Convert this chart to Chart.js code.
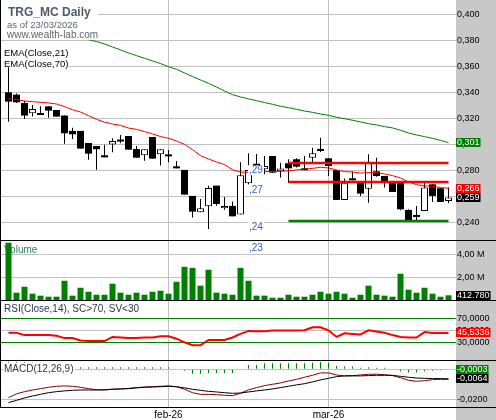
<!DOCTYPE html>
<html><head><meta charset="utf-8">
<script src="https://cdn.jsdelivr.net/npm/chart.js@4.4.1/dist/chart.umd.min.js"></script>
<style>
html,body{margin:0;padding:0;background:#fff;}
#wrap{position:relative;width:496px;height:420px;overflow:hidden;background:#fff;}
.pane{position:absolute;left:0;width:496px;}
canvas{display:block;}
</style></head><body>
<div id="wrap">
<div class="pane" style="top:0;height:240px"><canvas id="cPrice" width="496" height="240"></canvas></div>
<div class="pane" style="top:240px;height:60px"><canvas id="cVol" width="496" height="60"></canvas></div>
<div class="pane" style="top:300px;height:60px"><canvas id="cRsi" width="496" height="60"></canvas></div>
<div class="pane" style="top:360px;height:60px"><canvas id="cMacd" width="496" height="60"></canvas></div>
</div>
<script>
// ---------------- DATA ----------------
const symbol = 'TRG_MC Daily';
const asOf = 'as of 23/03/2026';
const site = 'www.wealth-lab.com';
const monthLabels = ['feb-26', 'mar-26'];
const monthStartIndex = [20, 40];

const open  = [0.3400,0.3382,0.3318,0.3238,0.3226,0.3292,0.3264,0.3221,0.3103,0.3103,0.3010,0.2987,0.2907,0.2999,0.3033,0.3064,0.2964,0.2915,0.3056,0.2923,0.2910,0.2826,0.2803,0.2603,0.2477,0.2523,0.2682,0.2508,0.2526,0.2459,0.2700,0.2850,0.2808,0.2910,0.2792,0.2854,0.2885,0.2813,0.2897,0.2962,0.2892,0.2800,0.2572,0.2738,0.2705,0.2659,0.2792,0.2756,0.2705,0.2705,0.2495,0.2454,0.2487,0.2692,0.2662,0.2564];
const high  = [0.3620,0.3390,0.3333,0.3303,0.3292,0.3292,0.3264,0.3221,0.3128,0.3103,0.3010,0.2987,0.2997,0.3046,0.3072,0.3064,0.2987,0.2962,0.3056,0.2962,0.2956,0.2872,0.2803,0.2603,0.2579,0.2682,0.2682,0.2595,0.2559,0.2862,0.2931,0.2925,0.2910,0.2910,0.2859,0.2885,0.2892,0.2910,0.2974,0.3051,0.2892,0.2800,0.2736,0.2790,0.2705,0.2923,0.2897,0.2756,0.2705,0.2705,0.2500,0.2526,0.2705,0.2692,0.2662,0.2667];
const low   = [0.3174,0.3318,0.3195,0.3213,0.3226,0.3205,0.3213,0.3005,0.3041,0.2967,0.2882,0.2805,0.2900,0.2938,0.3008,0.2959,0.2897,0.2874,0.2890,0.2836,0.2862,0.2815,0.2613,0.2436,0.2477,0.2349,0.2528,0.2497,0.2446,0.2459,0.2690,0.2790,0.2769,0.2782,0.2744,0.2705,0.2821,0.2800,0.2864,0.2941,0.2756,0.2572,0.2572,0.2723,0.2603,0.2551,0.2751,0.2667,0.2633,0.2492,0.2415,0.2410,0.2487,0.2556,0.2556,0.2546];
const close = [0.3328,0.3323,0.3221,0.3272,0.3241,0.3259,0.3213,0.3085,0.3077,0.2967,0.2928,0.2962,0.2900,0.3026,0.3021,0.2959,0.2897,0.2962,0.2890,0.2962,0.2907,0.2815,0.2613,0.2482,0.2508,0.2664,0.2541,0.2526,0.2446,0.2762,0.2802,0.2815,0.2833,0.2782,0.2813,0.2815,0.2828,0.2800,0.2931,0.2949,0.2833,0.2572,0.2705,0.2723,0.2621,0.2859,0.2756,0.2713,0.2633,0.2500,0.2415,0.2441,0.2667,0.2603,0.2556,0.2590];

const ema21 = [0.3351,0.3344,0.3333,0.3328,0.3323,0.3318,0.3310,0.3290,0.3266,0.3248,0.3220,0.3192,0.3170,0.3156,0.3146,0.3125,0.3115,0.3098,0.3080,0.3060,0.3046,0.3026,0.3000,0.2959,0.2913,0.2887,0.2864,0.2844,0.2805,0.2785,0.2785,0.2787,0.2790,0.2790,0.2792,0.2797,0.2803,0.2808,0.2815,0.2823,0.2818,0.2803,0.2790,0.2787,0.2779,0.2782,0.2782,0.2772,0.2759,0.2741,0.2710,0.2690,0.2679,0.2677,0.2667,0.2662];
const ema70 = [0.3995,0.3975,0.3955,0.3935,0.3915,0.3895,0.3876,0.3857,0.3839,0.3821,0.3805,0.3790,0.3772,0.3749,0.3726,0.3703,0.3682,0.3662,0.3641,0.3621,0.3597,0.3577,0.3549,0.3521,0.3495,0.3469,0.3441,0.3410,0.3382,0.3364,0.3349,0.3336,0.3321,0.3308,0.3292,0.3282,0.3269,0.3256,0.3246,0.3233,0.3223,0.3208,0.3197,0.3185,0.3172,0.3159,0.3149,0.3136,0.3126,0.3108,0.3087,0.3072,0.3059,0.3046,0.3030,0.3013];

const resistanceLevels = [0.2856, 0.2710];
const supportLevels = [0.2410];
const levelFromIndex = 35, levelToIndex = 55;

const annotationText = [',29', ',27', ',24'];
const annotationValue = [0.2777, 0.2628, 0.2341];
const annotationIndex = 30;
const volumeAnnotationText = ',23';
const volumeAnnotationValue = 4320000;

const volume = [5010000,640000,1160000,550000,380000,290000,290000,1680000,380000,1070000,720000,460000,460000,1420000,640000,460000,640000,460000,720000,810000,550000,1590000,2900000,2810000,1250000,2640000,640000,550000,460000,2810000,1680000,380000,380000,200000,200000,460000,290000,290000,460000,720000,550000,720000,550000,200000,460000,1250000,460000,380000,290000,2290000,900000,640000,1070000,550000,290000,412780];

const rsi = [46,46,42,42,42,42,41,37,37,33,32,32,32,39,38,37,37,38,38,40,40,36,30,25,25,34,34,34,38,44,49,48.5,48.5,49.5,49.5,49.5,49.5,50,55,55,50,39,45,44,43,50,48,46,42,39,38,38,47,45.5,45.5,45.5336];

const macd = [-0.0189,-0.0164,-0.0149,-0.0138,-0.0129,-0.0120,-0.0113,-0.0111,-0.0113,-0.0120,-0.0129,-0.0136,-0.0138,-0.0133,-0.0131,-0.0127,-0.0122,-0.0118,-0.0116,-0.0113,-0.0111,-0.0116,-0.0133,-0.0156,-0.0167,-0.0167,-0.0169,-0.0173,-0.0176,-0.0160,-0.0137,-0.0122,-0.0109,-0.0100,-0.0091,-0.0078,-0.0067,-0.0053,-0.0040,-0.0024,-0.0024,-0.0038,-0.0044,-0.0042,-0.0038,-0.0033,-0.0033,-0.0036,-0.0042,-0.0056,-0.0073,-0.0080,-0.0076,-0.0069,-0.0067,-0.0067];
const macdSignal = [-0.0222,-0.0207,-0.0191,-0.0178,-0.0167,-0.0156,-0.0149,-0.0144,-0.0140,-0.0138,-0.0138,-0.0138,-0.0136,-0.0133,-0.0131,-0.0129,-0.0124,-0.0120,-0.0118,-0.0116,-0.0113,-0.0116,-0.0124,-0.0133,-0.0140,-0.0147,-0.0151,-0.0156,-0.0160,-0.0158,-0.0151,-0.0144,-0.0138,-0.0131,-0.0122,-0.0113,-0.0104,-0.0096,-0.0084,-0.0071,-0.0060,-0.0049,-0.0044,-0.0044,-0.0044,-0.0042,-0.0040,-0.0040,-0.0040,-0.0047,-0.0053,-0.0058,-0.0060,-0.0062,-0.0062,-0.0064];
const macdHist = [0.0050,0.0050,0.0048,0.0046,0.0044,0.0042,0.0040,0.0036,0.0029,0.0014,0.0014,0.0014,0.0014,0.0014,0.0014,0.0014,0.0014,0.0014,0.0014,0.0014,0.0014,0.0004,-0.0010,-0.0029,-0.0029,-0.0024,-0.0024,-0.0024,-0.0024,0.0003,0.0029,0.0029,0.0040,0.0040,0.0040,0.0040,0.0040,0.0040,0.0044,0.0049,0.0044,0.0022,0.0018,0.0018,0.0010,0.0013,0.0011,0.0011,0.0003,-0.0013,-0.0022,-0.0022,-0.0013,-0.0009,-0.0006,-0.0003];

const priceTicks = [0.24,0.26,0.28,0.30,0.32,0.34,0.36,0.38,0.40];
const volumeTicks = [2000000, 4000000];
const rsiTicks = [30, 50, 70];
const macdTicks = [-0.02, 0];

// ---------------- HELPERS ----------------
const FONT = '"Liberation Sans", Arial, sans-serif';
const GRID = '#c0c0c0';
const PANEL = '#c8c8c8';
const n = close.length;
const idx = close.map((_, i) => i);
const pts = arr => arr.map((v, i) => ({x: i, y: v}));
const comma = s => s.replace('.', ',');
const fmtPrice = v => comma(v.toFixed(3));
const fmtVol = v => comma((v / 1e6).toFixed(2)) + ' M';
const fmt4 = v => comma(v.toFixed(4));
const thousands = v => String(Math.round(v)).replace(/\B(?=(\d{3})+(?!\d))/g, '.');

function xScale(showLabels) {
  return {
    type: 'linear', min: -0.9375, max: 55.9375, offset: false,
    border: {display: false},
    grid: {color: GRID, drawTicks: false, offset: false, lineWidth: 1},
    afterBuildTicks: s => { s.ticks = monthStartIndex.map(v => ({value: v})); },
    afterFit: s => { s.height = showLabels ? 12 : 0; s.paddingLeft = 0; s.paddingRight = 0; },
    ticks: {display: showLabels, padding: 1, color: '#000', autoSkip: false, maxRotation: 0,
      font: {family: FONT, size: 10}, callback: (v, i) => monthLabels[i]}
  };
}
function yScale(min, max, ticks, fmt, gridColor) {
  return {
    position: 'right', min, max,
    border: {display: false},
    grid: {color: gridColor || GRID, drawTicks: false},
    afterBuildTicks: s => { s.ticks = ticks.map(v => ({value: v})); },
    afterFit: s => { s.width = 40; s.paddingTop = 0; s.paddingBottom = 0; },
    ticks: {padding: 1, color: '#000', font: {family: FONT, size: 9}, callback: v => fmt(v)}
  };
}
function options(x, y, pluginOpts) {
  return {
    responsive: false, animation: false, events: [],
    layout: {padding: {left: 1, right: 0, top: 0, bottom: 0}, autoPadding: false},
    plugins: Object.assign({legend: {display: false}, tooltip: {enabled: false}}, pluginOpts),
    scales: {x, y}
  };
}
const frame = {
  id: 'frame',
  beforeDraw(chart) {
    const {ctx, chartArea: a, width, height} = chart;
    ctx.save();
    ctx.fillStyle = '#fff'; ctx.fillRect(0, 0, width, height);
    ctx.fillStyle = PANEL; ctx.fillRect(a.right, 0, width - a.right, height);
    ctx.restore();
  },
  afterDraw(chart, args, opts) {
    const {ctx, width, chartArea: a} = chart;
    ctx.save(); ctx.fillStyle = '#000';
    ctx.fillRect(0, 0, 1, a.bottom);
    (opts.hLines || []).forEach(y => ctx.fillRect(0, y, width, 1));
    ctx.restore();
  }
};
function text(ctx, s, x, y, font, color, bg) {
  ctx.font = font;
  if (bg) {
    const w = ctx.measureText(s).width;
    ctx.fillStyle = '#fff'; ctx.fillRect(x - 1, y - bg[0], w + 2, bg[0] + bg[1]);
  }
  ctx.fillStyle = color; ctx.textAlign = 'left'; ctx.textBaseline = 'alphabetic';
  ctx.fillText(s, x, y);
}
function valueBox(chart, v, s, bg, fg) {
  const {ctx, chartArea: a} = chart;
  let yc = chart.scales.y.getPixelForValue(v);
  yc = Math.min(Math.max(yc, a.top + 4.5), a.bottom - 5);
  ctx.save();
  ctx.font = '9px ' + FONT;
  const w = ctx.measureText(s).width + 2;
  ctx.fillStyle = bg; ctx.fillRect(a.right, Math.round(yc - 4.5), w, 9);
  ctx.fillStyle = fg; ctx.textAlign = 'left'; ctx.textBaseline = 'middle';
  ctx.fillText(s, a.right + 1, Math.round(yc - 4.5) + 5);
  ctx.restore();
}
Chart.defaults.font.family = FONT;

// ---------------- PRICE ----------------
const wickData = idx.map(i => ({x: i, y: [low[i], high[i]]}));
const upData = idx.filter(i => close[i] >= open[i]).map(i => ({x: i, y: [open[i], close[i]]}));
const downData = idx.filter(i => close[i] < open[i]).map(i => ({x: i, y: [close[i], open[i]]}));
const lineDs = (data, color, w) => ({type: 'line', data, borderColor: color, borderWidth: w, pointRadius: 0, fill: false, tension: 0, order: 0});
const barBase = {type: 'bar', grouped: false, inflateAmount: 0, borderSkipped: false};

const priceDeco = {
  id: 'priceDeco',
  afterDatasetsDraw(chart) {
    const {ctx} = chart;
    ctx.save();
    ctx.fillStyle = '#fff'; ctx.fillRect(1, 0, 97, 40);
    text(ctx, symbol, 8, 16, 'bold 12px ' + FONT, '#4e5b68');
    text(ctx, asOf, 7, 27.5, '9.5px ' + FONT, '#5c6670');
    text(ctx, site, 7, 38, '10px ' + FONT, '#5c6670');
    ctx.fillStyle = '#fff'; ctx.fillRect(1, 46.5, 67, 20.8);
    text(ctx, 'EMA(Close,21)', 4, 56, '9.5px ' + FONT, '#000');
    text(ctx, 'EMA(Close,70)', 4, 66.5, '9.5px ' + FONT, '#000');
    const xs = chart.scales.x, ys = chart.scales.y;
    annotationText.forEach((s, k) => {
      text(ctx, s, xs.getPixelForValue(annotationIndex) + 0.5, ys.getPixelForValue(annotationValue[k]), '10px ' + FONT, '#2f62c4', [8, 2]);
    });
    ctx.restore();
  },
  afterDraw(chart) {
    valueBox(chart, ema70[n - 1], fmtPrice(ema70[n - 1]), '#008000', '#fff');
    valueBox(chart, ema21[n - 1], fmtPrice(ema21[n - 1]), '#ff0000', '#fff');
    valueBox(chart, close[n - 1], fmtPrice(close[n - 1]), '#000', '#fff');
  }
};

new Chart(document.getElementById('cPrice'), {
  type: 'bar',
  data: {datasets: [
    lineDs(pts(ema70), '#008000', 1),
    lineDs(pts(ema21), '#ff0000', 1),
    ...resistanceLevels.map(v => lineDs([{x: levelFromIndex, y: v}, {x: levelToIndex, y: v}], '#ff0000', 2.5)),
    ...supportLevels.map(v => lineDs([{x: levelFromIndex, y: v}, {x: levelToIndex, y: v}], '#008000', 2.5)),
    Object.assign({}, barBase, {data: upData, backgroundColor: '#fff', borderColor: '#000', borderWidth: 1, barThickness: 7, minBarLength: 2, order: 1}),
    Object.assign({}, barBase, {data: downData, backgroundColor: '#000', borderWidth: 0, barThickness: 7, minBarLength: 2, order: 1}),
    Object.assign({}, barBase, {data: wickData, backgroundColor: '#000', borderWidth: 0, barThickness: 1, order: 2})
  ]},
  options: options(xScale(false), yScale(0.22638, 0.411, priceTicks, fmtPrice), {frame: {hLines: []}}),
  plugins: [frame, priceDeco]
});

// ---------------- VOLUME ----------------
const volDeco = {
  id: 'volDeco',
  beforeDatasetsDraw(chart) {
    const {ctx} = chart;
    ctx.save();
    text(ctx, 'Volume', 4, 13.3, '10px ' + FONT, '#2b8060');
    ctx.restore();
  },
  afterDatasetsDraw(chart) {
    const {ctx} = chart;
    ctx.save();
    text(ctx, volumeAnnotationText, chart.scales.x.getPixelForValue(annotationIndex) + 0.5,
      chart.scales.y.getPixelForValue(volumeAnnotationValue), '10px ' + FONT, '#2f62c4', [8, 2]);
    ctx.restore();
  },
  afterDraw(chart) {
    valueBox(chart, volume[n - 1], thousands(volume[n - 1]), '#000', '#fff');
  }
};
new Chart(document.getElementById('cVol'), {
  type: 'bar',
  data: {datasets: [
    Object.assign({}, barBase, {data: pts(volume), backgroundColor: '#008000', borderWidth: 0, barThickness: 6, order: 1})
  ]},
  options: options(xScale(false), yScale(0, 5240000, volumeTicks, fmtVol), {frame: {hLines: [0]}}),
  plugins: [frame, volDeco]
});

// ---------------- RSI ----------------
const rsiDeco = {
  id: 'rsiDeco',
  afterDatasetsDraw(chart) {
    const {ctx} = chart;
    ctx.save();
    text(ctx, 'RSI(Close,14), SC>70, SV<30', 4, 11.7, '10px ' + FONT, '#2d3456');
    ctx.restore();
  },
  afterDraw(chart) {
    valueBox(chart, rsi[n - 1], fmt4(rsi[n - 1]), '#ff0000', '#fff');
  }
};
new Chart(document.getElementById('cRsi'), {
  type: 'bar',
  data: {datasets: [lineDs(pts(rsi), '#ff0000', 2)]},
  options: options(xScale(false),
    yScale(0.5, 100.5, rsiTicks, fmt4, c => (c.tick && c.tick.value === 50) ? GRID : '#008000'),
    {frame: {hLines: [0]}}),
  plugins: [frame, rsiDeco]
});

// ---------------- MACD ----------------
const macdDeco = {
  id: 'macdDeco',
  afterDatasetsDraw(chart) {
    const {ctx} = chart;
    ctx.save();
    text(ctx, 'MACD(12,26,9)', 4, 11.7, '10px ' + FONT, '#3a3232', [9, 3]);
    ctx.restore();
  },
  afterDraw(chart) {
    valueBox(chart, macdHist[n - 1], fmt4(macdHist[n - 1]), '#008000', '#fff');
    valueBox(chart, macdSignal[n - 1], fmt4(macdSignal[n - 1]), '#000', '#fff');
  }
};
new Chart(document.getElementById('cMacd'), {
  type: 'bar',
  data: {datasets: [
    lineDs(pts(macdSignal), '#000', 1),
    lineDs(pts(macd), '#8b0000', 1),
    Object.assign({}, barBase, {data: pts(macdHist), backgroundColor: '#008000', borderWidth: 0, barThickness: 1, order: 2})
  ]},
  options: options(xScale(true), yScale(-0.0258, 0.0062, macdTicks, fmt4), {frame: {hLines: [0, 47]}}),
  plugins: [frame, macdDeco]
});
</script>
</body></html>
